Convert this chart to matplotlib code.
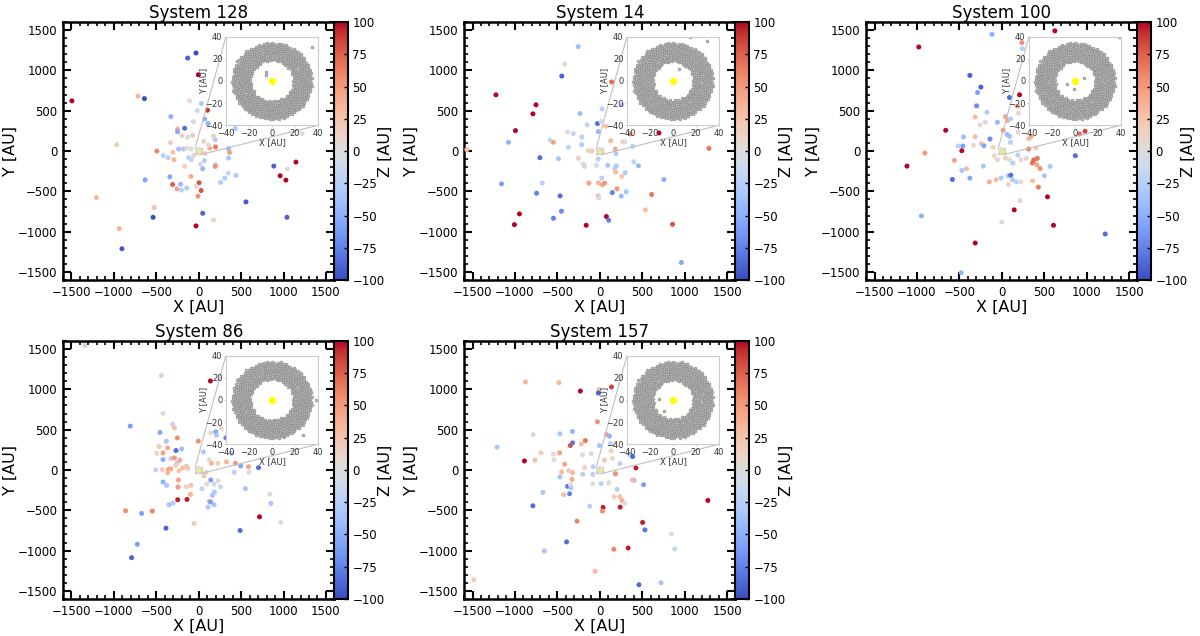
import numpy as np
import matplotlib
matplotlib.use("Agg")
import matplotlib.pyplot as plt
from matplotlib.ticker import MultipleLocator
from mpl_toolkits.axes_grid1.inset_locator import mark_inset

# ---------------- data ----------------
titles = ["System 128", "System 14", "System 100", "System 86", "System 157"]

x128 = [-1495, -715, -640, -130, -32, -4, -107, 32, -16, 103, 71, -63, 111, -328, -166, -249, -249, -198, -71, -130,
        -332, -968, -494, -419, -360, -304, -292, -237, -182, -140, -87, -59, -119, -87, -166, 20, 47, 75, 130, 198,
        194, 174, 59, 115, 198, 194, 352, 364, 352, 348, 308, 257, 439, -340, -213, -308, -257, -205, -142, -91,
        4, -28, 28, -8, -632, -1206, -526, -538, -937, -905, 47, -32, 174, 557, 885, 960, 1028, 1043, 1146, 1040,
        1217, 431, 67]
y128 = [622, 680, 650, 1153, 1216, 946, 622, 589, 502, 506, 398, 365, 340, 427, 282, 274, 240, 191, 195, 170,
        104, 79, 0, -58, -83, -17, -108, 25, 25, 37, 25, -54, -83, -108, -191, -166, -220, -33, 37, 50,
        141, 183, 120, 75, -170, -191, 29, -17, -87, -274, -336, -390, -303, -320, -411, -415, -469, -485, -461, -315,
        -394, -440, -490, -560, -357, -577, -701, -822, -963, -1212, -772, -929, -855, -631, -187, -307, -361, -224, -137, -822,
        216, 278, -120]
z128 = [100, 35, -100, -90, -100, 100, 10, -30, -15, 90, -50, 0, -50, -50, -85, 40, -55, 15, 20, -10,
        15, 20, 60, -25, -25, 25, 35, -40, -30, 5, 0, 10, -25, -20, 15, -10, -45, 15, 40, 65,
        -30, 20, 15, 0, -25, 55, -45, 45, -35, -15, -30, -30, -30, -55, -45, 75, 45, -25, -30, 40,
        80, 5, 80, 55, -55, 35, 25, -100, 35, -95, -90, 100, 12, -95, -90, 100, 100, 5, 100, -90,
        5, -35, -30]

x14 = [-253, -413, -448, -1224, -752, -788, -994, -1076, -1567, -706, -1158, -678, -745, -468, -452, -546, -947, -1006, -160, 78,
       105, -234, 27, -27, -16, -148, 70, 15, -378, -312, -585, -546, -370, -487, -211, -214, -250, -195, -180, -136,
       -94, -39, -19, 129, 273, 296, 183, 191, 94, 175, 195, 187, 300, 261, 390, 359, 402, 456, 23, -129,
       -16, 31, 58, 203, 148, 253, 312, -19, -12, 612, 538, 756, 858, 1287, 963, 698, 140, 261]
y14 = [1295, 1079, 929, 697, 573, 461, 253, 108, 17, -83, -407, -398, -523, -556, -747, -834, -780, -913, -921, -813,
       -859, 465, 523, 340, 241, 324, 307, 365, 237, 216, 133, 108, 46, -95, 174, 79, -91, -162, -190, 4,
       0, -178, -100, 129, 116, 112, 25, -33, -178, -224, -185, -261, -270, -315, 58, 212, -133, -183, -336, -398,
       -394, -419, -398, -469, -515, -560, -506, -556, -581, -539, -730, -353, -909, 33, -1382, 224, 857, 573]
z14 = [-40, 5, -90, 100, 100, 100, 100, -50, 30, -85, -60, -25, -75, -85, -70, -75, 100, 100, 100, 100,
       -75, -40, -25, -85, -45, -20, 30, -5, 5, -20, -20, 45, -20, -35, -25, -30, 15, 5, -15, 15,
       20, -5, -25, 30, 15, 5, 40, -30, -35, -25, -30, 30, -30, 20, -25, 55, -20, -45, -25, 45,
       35, 40, 50, 50, -75, -40, -35, 30, -10, 65, 30, -50, 80, 65, -55, 100, 70, -30]

x100 = [-115, 626, -978, 238, 242, -376, -246, -285, -297, 91, 210, 186, 198, -174, -313, -194, -257, -51, 44, 67,
        103, 16, 63, 91, 103, 194, 321, 345, 317, 404, 380, 289, 360, 376, 420, 412, 451, 503, 570, 364,
        432, 539, 610, 867, 1220, 982, 915, 147, 214, 0, -313, -479, -947, -1117, -907, -661, -558, -515, -471, -459,
        -451, -471, -416, -582, -376, -333, -313, -242, -210, -218, -139, -147, -67, -8, 75, 107, 79, 127, 174, 226,
        -51, 44, 91, 131, 190, 226, -103, -90]
y100 = [1448, 1490, 1290, 1344, 1270, 938, 793, 726, 560, 664, 697, 556, 469, 481, 423, 357, 324, 357, 427, 378,
        398, 257, 203, 183, 108, 236, 154, 183, 25, 37, -100, -91, -149, -116, -91, -170, -216, -307, -191, -369,
        -448, -568, -921, -58, -1029, 245, 212, -730, -614, -880, -1141, -1510, -805, -187, -25, 257, -116, 62, 4, 62,
        174, -241, -220, -353, -336, 71, 178, 91, 66, -187, 149, -382, -357, -336, -307, -299, -415, -357, -382, -382,
        -108, -87, -108, -149, -50, -108, 46, -60]
z100 = [-50, 100, 100, 55, -25, -90, -90, -60, -70, -85, 100, 40, 5, -30, 30, 5, 3, -45, 45, 40,
        -30, 50, -45, -40, -25, 5, 35, 45, 60, 15, -25, 5, 65, 70, 65, 45, 55, -35, -35, 30,
        65, 100, 100, -85, -85, 85, 70, 100, 15, 5, 100, -50, -50, 100, 50, 100, 45, -25, 100, -60,
        -40, -35, 30, -85, -55, 5, 30, 25, -55, -35, -70, 40, 30, -30, -35, -85, 15, -30, -25, 5,
        10, 15, 5, -25, -25, 5, 15, 12]

x86 = [-1343, -441, 138, -421, -807, -307, -287, -457, -252, -382, -469, -366, -268, -201, -421, -496, -421, -327, -287, -255,
       -224, -429, -358, -508, -330, -366, -270, -232, -190, -146, -130, -421, -378, -240, -244, -146, -91, -98, -248, -138,
       -350, -303, -862, -673, -547, -386, -724, -791, -55, -4, 142, 201, 209, 264, 319, 55, 122, 150, 224, 327,
       386, 433, 496, 587, 594, 705, 417, 87, 63, 142, 94, 181, 228, 256, 185, 161, 39, 126, 142, 181,
       110, 551, 488, 717, 839, 850, 969]
y86 = [1544, 1170, 1104, 701, 544, 568, 523, 465, 398, 357, 290, 274, 241, 261, 212, 207, 129, 141, 149, 90,
       120, 4, 8, 0, 15, -37, 60, -8, 25, 46, 20, -149, -191, -124, -212, -207, -191, -303, -369, -365,
       -432, -411, -506, -539, -510, -722, -921, -1087, -664, 357, 461, 473, 432, 515, 398, 224, 129, 83, 83, 100,
       207, 83, 50, 41, -29, 29, -29, -29, -75, -124, -174, -174, -133, -207, -274, -315, -232, -390, -398, -432,
       -461, -232, -751, -581, -299, -415, -651]
z86 = [-15, 15, 100, 5, -60, -20, 30, -55, 55, -35, 20, 40, -85, -40, 45, 5, -50, -25, 50, -25,
       40, 20, 45, -20, 40, 35, 20, 25, 30, 20, 25, -50, -35, 45, 50, 15, 25, 35, 95, 95,
       -35, -30, 55, -60, 60, -90, -60, -90, 20, 55, 5, -55, -35, 15, -75, -30, 5, 35, 20, 35,
       -35, 50, -55, 45, 5, -85, -25, 15, 20, -60, 5, -10, 5, -15, -30, -35, -20, 40, -60, -35,
       -30, -35, -85, 100, 5, -35, 8]

x157 = [-876, -481, -229, -12, -16, 138, -28, 79, 114, -785, -469, -323, -1211, -320, -347, -217, -170, -201, -103, -4,
        126, 158, 134, 55, 150, 237, 347, 387, 410, 387, 426, 517, 185, 107, 16, -83, 205, 170, 237, 264,
        296, 241, 39, 32, -118, -268, 505, 533, 335, 166, -391, -655, -789, -671, -469, -450, -414, -473, -548, -694,
        -765, -888, -540, -367, -320, -327, -379, -339, -345, -355, -426, -201, -178, -79, -83, 1274, 844, 884, 722, 462,
        -55, -1483]
y157 = [1091, 1083, 979, 996, 954, 1029, 598, 440, 419, 440, 448, 477, 282, 336, 303, 324, 365, 187, 203, 303,
        328, 319, 237, 120, 145, 79, 195, 166, -129, -124, 25, -183, -46, -158, -170, -170, -241, -332, -332, -382,
        -411, -461, -465, -510, -448, -635, -651, -743, -967, -983, -892, -1004, -444, -278, -87, -25, 71, 212, 195, 212,
        120, 112, 124, -8, -33, -116, -203, -220, -180, -295, -307, -54, 29, 41, -54, -378, -793, -979, -1398, -1423,
        -1257, -1361]
z157 = [35, 35, 100, 30, -90, 85, 55, 45, -50, 5, -35, -45, -35, -80, 80, 30, 65, 5, 5, -35,
        -25, 3, 15, 25, 5, -25, -30, -85, -30, 35, 95, -60, 55, 5, -25, 5, -25, 15, 30, 40,
        8, 95, 95, 55, -25, 60, 95, -80, 95, 60, -85, -35, -85, -35, -35, 30, 45, 45, 5, 20,
        30, 100, 5, 20, 35, 40, -80, -35, 5, -75, 30, -25, 15, -25, -25, 100, 5, -15, -35, -85,
        30, 20]

# inner disc (inset): annulus extent and count, estimated per system
ring_inner = [18, 17, 17, 18, 17]
ring_outer = [35, 35, 35, 35, 35]
ring_count = [600, 600, 600, 600, 600]
# stray inner bodies visible in the insets
stray_x = [[35, -5, -5], [29, 15, 5], [-7, -1, 8, 38], [38, 27], [-12, -8]]
stray_y = [[31, 8, 5], [36, 40, 11], [-2.5, -7, 3, 40], [0, -32], [1, -10]]

xs = [x128, x14, x100, x86, x157]
ys = [y128, y14, y100, y86, y157]
zs = [z128, z14, z100, z86, z157]

cbar_ticks = [-100, -75, -50, -25, 0, 25, 50, 75, 100]

# ---------------- figure ----------------
fig = plt.figure(figsize=(12, 6.36), dpi=100)
col_x = [0.0525, 0.3867, 0.7217]
row_y = [0.5597, 0.0582]
aw, ah, cw = 0.2262, 0.4057, 0.0115
slots = [(0, 0), (0, 1), (0, 2), (1, 0), (1, 1)]
cmap = plt.get_cmap("coolwarm")

golden = np.pi * (3 - np.sqrt(5))

for i, (r, c) in enumerate(slots):
    ax = fig.add_axes([col_x[c], row_y[r], aw, ah])
    cax = fig.add_axes([col_x[c] + aw, row_y[r], cw, ah])

    # inner disc texture (deterministic layout inside the estimated annulus)
    k = np.arange(ring_count[i])
    rr = np.sqrt(ring_inner[i] ** 2 + (ring_outer[i] ** 2 - ring_inner[i] ** 2) * (k + 0.5) / ring_count[i])
    th = k * golden
    rx = rr * np.cos(th)
    ry = rr * np.sin(th)

    ax.scatter(rx, ry, c=np.zeros_like(rx), cmap=cmap, vmin=-100, vmax=100, s=1.0, linewidths=0, zorder=2)
    sc = ax.scatter(xs[i], ys[i], c=zs[i], cmap=cmap, vmin=-100, vmax=100, s=13, linewidths=0, zorder=3)
    ax.scatter([0], [0], color="yellow", s=4, zorder=4, linewidths=0)

    ax.set_xlim(-1600, 1600)
    ax.set_ylim(-1600, 1600)
    ax.xaxis.set_major_locator(MultipleLocator(500))
    ax.yaxis.set_major_locator(MultipleLocator(500))
    ax.xaxis.set_minor_locator(MultipleLocator(100))
    ax.yaxis.set_minor_locator(MultipleLocator(100))
    ax.tick_params(which="both", direction="in", top=True, right=True)
    ax.tick_params(which="major", length=5.5, width=1.5, labelsize=8.5, pad=4)
    ax.tick_params(which="minor", length=3, width=1.2)
    for sp in ax.spines.values():
        sp.set_linewidth(1.8)
    ax.set_title(titles[i], fontsize=12, pad=3)
    ax.set_xlabel("X [AU]", fontsize=11.5, labelpad=1)
    ax.set_ylabel("Y [AU]", fontsize=11.5, labelpad=0)

    cb = fig.colorbar(sc, cax=cax, ticks=cbar_ticks)
    cb.outline.set_linewidth(1.5)
    cax.tick_params(direction="in", length=3, width=1, labelsize=8.5, pad=3)
    cb.set_label("Z [AU]", fontsize=11.5, labelpad=-5)

    # inset
    axins = ax.inset_axes([0.6, 0.6, 0.34, 0.343])
    axins.set_zorder(5)
    axins.scatter(rx, ry, color="0.72", edgecolors="0.5", linewidths=0.35, s=4.5)
    axins.scatter(stray_x[i], stray_y[i], color="0.72", edgecolors="0.5", linewidths=0.35, s=4.5)
    axins.scatter([0], [0], color="yellow", s=28, zorder=3, linewidths=0)
    axins.set_xlim(-40, 40)
    axins.set_ylim(-40, 40)
    axins.set_xticks([-40, -20, 0, 20, 40])
    axins.set_yticks([-40, -20, 0, 20, 40])
    axins.tick_params(labelsize=6, length=1.5, width=0.5, color="0.8", labelcolor="0.2", pad=1)
    axins.set_xlabel("X [AU]", fontsize=6, labelpad=0, color="0.2")
    axins.set_ylabel("Y [AU]", fontsize=6, labelpad=-2, color="0.2")
    for sp in axins.spines.values():
        sp.set_edgecolor("0.8")
        sp.set_linewidth(0.8)
    mark_inset(ax, axins, loc1=2, loc2=4, fc="none", ec="0.75", lw=0.8)

fig.savefig("out.png", dpi=100)
